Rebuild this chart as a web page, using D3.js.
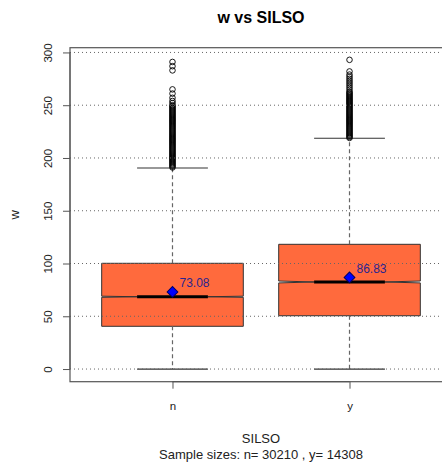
<!DOCTYPE html>
<html>
<head>
<meta charset="utf-8">
<script src="https://cdn.jsdelivr.net/npm/d3@7"></script>
<style>
  html, body { margin: 0; padding: 0; background: #fff; }
  svg { display: block; font-family: "Liberation Sans", Arial, sans-serif; }
</style>
</head>
<body>
<svg id="chart" width="442" height="465"></svg>
<script>
// ---- data ----
const categories = ["n", "y"];
const sampleSizes = [30210, 14308];
const q1 = [40.5, 50.5];
const medians = [68.5, 82.5];
const q3 = [100.2, 118.2];
const whiskerLow = [0, 0];
const whiskerHigh = [190.5, 218.7];
const means = [73.08, 86.83];
const outliersN = [291, 287, 283, 265, 261, 257, 254, 252, 250, 249, 248, 247, 246, 245, 244, 243, 242, 241, 240, 239, 238, 237, 236, 235, 234, 233, 232, 231, 230, 229, 228, 227, 226, 225, 224, 223, 222, 221, 220, 219, 218, 217, 216, 215, 214, 213, 212, 211, 210, 209, 208, 207, 206, 205, 204, 203, 202, 201, 200, 199, 198, 197, 196, 195, 194, 193, 192, 191];
const outliersY = [293, 282, 279, 277, 275, 273, 271, 269, 267, 265, 263, 262, 261, 260, 259, 258, 257, 256, 255, 254, 253, 252, 251, 250, 249, 248, 247, 246, 245, 244, 243, 242, 241, 240, 239, 238, 237, 236, 235, 234, 233, 232, 231, 230, 229, 228, 227, 226, 225, 224, 223, 222, 221, 220, 219];
const yTicks = [0, 50, 100, 150, 200, 250, 300];
const title = "w vs SILSO";
const yLabel = "w";
const xLabel = "SILSO";

const outliers = [outliersN, outliersY];
const nNotch = sampleSizes; // used for notch size

// ---- layout ----
const svg = d3.select("#chart");
const plot = { left: 70, right: 452, top: 47.7, bottom: 381.7 };

const y = d3.scaleLinear().domain([-12, 304.5]).range([plot.bottom, plot.top]);
const x = d3.scalePoint().domain(categories).range([plot.left, plot.right]).padding(0.579);
const step = x.step();
const boxW = 0.8 * step;

const fillCol = "#FF6A3D";

// ---- boxes ----
categories.forEach((c, i) => {
  const cx = x(c);
  const L = cx - boxW / 2, R = cx + boxW / 2;
  const iqr = q3[i] - q1[i];
  const notch = 1.58 * iqr / Math.sqrt(nNotch[i]);
  const nl = cx - boxW / 4, nr = cx + boxW / 4;
  const pts = [
    [L, y(q1[i])], [R, y(q1[i])], [R, y(medians[i] - notch)], [nr, y(medians[i])],
    [R, y(medians[i] + notch)], [R, y(q3[i])], [L, y(q3[i])], [L, y(medians[i] + notch)],
    [nl, y(medians[i])], [L, y(medians[i] - notch)]
  ];
  svg.append("path")
    .attr("d", d3.line()(pts) + "Z")
    .attr("fill", fillCol)
    .attr("stroke", "#333")
    .attr("stroke-width", 1);
  // median
  svg.append("line")
    .attr("x1", nl).attr("x2", nr)
    .attr("y1", y(medians[i])).attr("y2", y(medians[i]))
    .attr("stroke", "#000").attr("stroke-width", 3);
  // whiskers
  [[q3[i], whiskerHigh[i]], [q1[i], whiskerLow[i]]].forEach(([a, b]) => {
    svg.append("line")
      .attr("x1", cx).attr("x2", cx)
      .attr("y1", y(a)).attr("y2", y(b))
      .attr("stroke", "#666").attr("stroke-width", 1.2)
      .attr("stroke-dasharray", "4,3");
    svg.append("line")
      .attr("x1", cx - boxW / 4).attr("x2", cx + boxW / 4)
      .attr("y1", y(b)).attr("y2", y(b))
      .attr("stroke", "#333").attr("stroke-width", 1.2);
  });
  // outliers
  svg.append("g").selectAll("circle")
    .data(outliers[i])
    .join("circle")
    .attr("cx", cx)
    .attr("cy", d => y(d))
    .attr("r", 2.8)
    .attr("fill", "none")
    .attr("stroke", "#000")
    .attr("stroke-width", 0.9);
});

// ---- grid (drawn over boxes) ----
svg.append("g").selectAll("line")
  .data(yTicks)
  .join("line")
  .attr("x1", plot.left).attr("x2", plot.right)
  .attr("y1", d => y(d)).attr("y2", d => y(d))
  .attr("stroke", "#666")
  .attr("stroke-width", 1)
  .attr("stroke-dasharray", "1,3");

// ---- means ----
categories.forEach((c, i) => {
  const cx = x(c), cy = y(means[i]);
  svg.append("path")
    .attr("d", d3.symbol(d3.symbolSquare, 58)())
    .attr("transform", `translate(${cx},${cy}) rotate(45)`)
    .attr("fill", "#0000FF")
    .attr("stroke", "#000066")
    .attr("stroke-width", 1);
  svg.append("text")
    .attr("x", cx + 7).attr("y", cy - 4.5)
    .attr("font-size", 12)
    .attr("fill", "#2A2590")
    .text(means[i].toFixed(2));
});

// ---- frame ----
svg.append("rect")
  .attr("x", plot.left).attr("y", plot.top)
  .attr("width", plot.right - plot.left).attr("height", plot.bottom - plot.top)
  .attr("fill", "none").attr("stroke", "#555").attr("stroke-width", 1.2);

// ---- axes ----
const yAxis = d3.axisLeft(y).tickValues(yTicks).tickSize(7).tickPadding(4);
const gy = svg.append("g").attr("transform", `translate(${plot.left},0)`).call(yAxis);
gy.select(".domain").remove();
gy.append("line").attr("x1", 0).attr("x2", 0)
  .attr("y1", y(yTicks[0])).attr("y2", y(yTicks[yTicks.length - 1]))
  .attr("stroke", "#555");
gy.selectAll(".tick line").attr("stroke", "#555");
gy.selectAll(".tick text")
  .attr("font-size", 11.5)
  .attr("font-family", "Liberation Sans, Arial, sans-serif")
  .attr("fill", "#222")
  .attr("text-anchor", "middle")
  .attr("transform", "rotate(-90)")
  .attr("x", 0).attr("y", -18.5).attr("dy", 0);

const xAxis = d3.axisBottom(x).tickSize(7).tickPadding(13);
const gx = svg.append("g").attr("transform", `translate(0,${plot.bottom})`).call(xAxis);
gx.select(".domain").remove();
gx.append("line")
  .attr("x1", x(categories[0])).attr("x2", x(categories[categories.length - 1]))
  .attr("y1", 0).attr("y2", 0)
  .attr("stroke", "#555").attr("stroke-width", 1.2);
gx.selectAll(".tick line").attr("stroke", "#555");
gx.selectAll(".tick text")
  .attr("font-size", 11.5)
  .attr("font-family", "Liberation Sans, Arial, sans-serif")
  .attr("fill", "#222");

// ---- titles ----
svg.append("text")
  .attr("x", (plot.left + plot.right) / 2).attr("y", 23)
  .attr("text-anchor", "middle")
  .attr("font-size", 16).attr("font-weight", "bold")
  .attr("fill", "#000")
  .text(title);

svg.append("text")
  .attr("transform", `translate(19,${(y(0) + y(300)) / 2 + 4}) rotate(-90)`)
  .attr("text-anchor", "middle")
  .attr("font-size", 13)
  .attr("fill", "#222")
  .text(yLabel);

svg.append("text")
  .attr("x", (plot.left + plot.right) / 2).attr("y", 443)
  .attr("text-anchor", "middle")
  .attr("font-size", 13).attr("fill", "#222")
  .text(xLabel);

svg.append("text")
  .attr("x", (plot.left + plot.right) / 2).attr("y", 459)
  .attr("text-anchor", "middle")
  .attr("font-size", 13).attr("fill", "#222")
  .text(`Sample sizes: ${categories[0]}= ${sampleSizes[0]} , ${categories[1]}= ${sampleSizes[1]}`);
</script>
</body>
</html>
